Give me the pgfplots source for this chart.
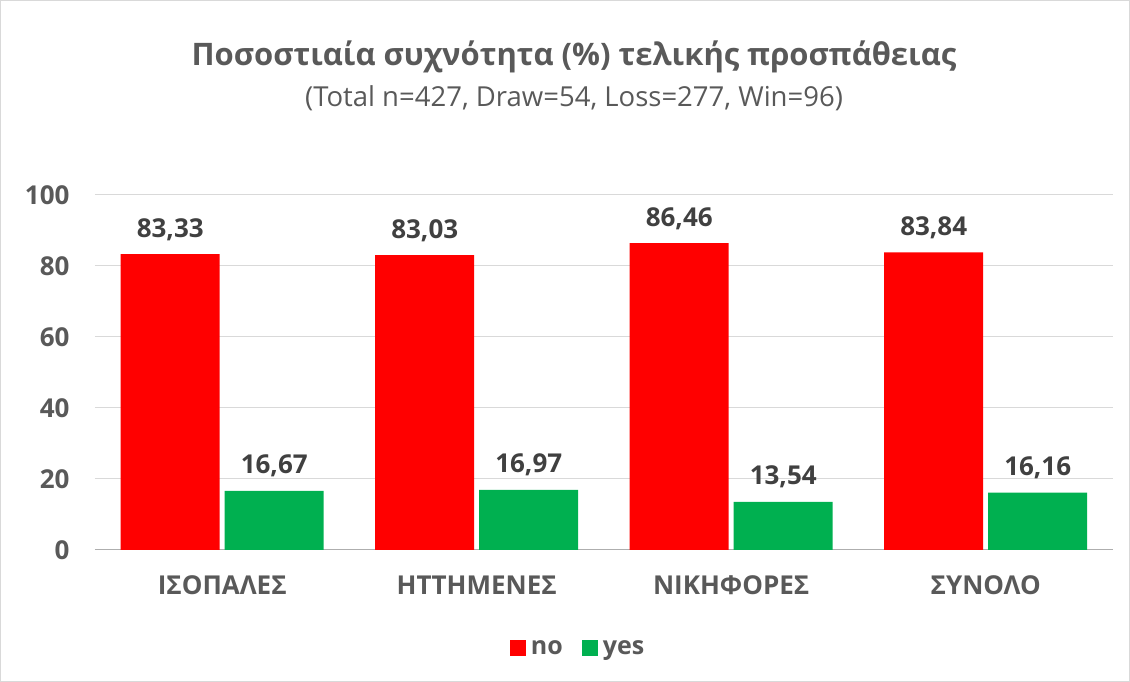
\documentclass[border=0pt]{standalone}
\usepackage{fontspec}
\setmainfont{Open Sans}
\usepackage{pgfplots}
\pgfplotsset{compat=1.18}
\definecolor{txt}{HTML}{595959}
\definecolor{lbl}{HTML}{404040}
\definecolor{gridc}{HTML}{D9D9D9}
\definecolor{cno}{HTML}{FF0000}
\definecolor{cyes}{HTML}{00B050}
\begin{document}
\begin{tikzpicture}[x=1pt,y=1pt]
\draw[gridc, line width=1pt] (0.5,0.5) rectangle (1129.5,681.5);
\node[txt, font=\fontsize{31}{36}\selectfont\bfseries] at (574,625) {Ποσοστιαία συχνότητα (\%) τελικής προσπάθειας};
\node[txt, font=\fontsize{27.5}{32}\selectfont] at (574,584) {(Total n=427, Draw=54, Loss=277, Win=96)};
\begin{axis}[
  at={(95pt,132pt)}, anchor=south west, scale only axis,
  width=1018pt, height=355pt,
  xmin=-0.5, xmax=3.5, ymin=0, ymax=100,
  ytick={0,20,...,100}, xtick={0,1,2,3},
  xticklabels={ΙΣΟΠΑΛΕΣ,ΗΤΤΗΜΕΝΕΣ,ΝΙΚΗΦΟΡΕΣ,ΣΥΝΟΛΟ},
  axis lines*=left,
  x axis line style={draw=gridc!80!black, line width=1pt},
  y axis line style={draw=none},
  major tick length=0pt,
  ymajorgrids, grid style={gridc, line width=1pt},
  /pgf/number format/assume math mode=true,
  tick label style={text=txt, font=\fontsize{26}{30}\selectfont\bfseries},
  yticklabel style={xshift=-22pt},
  xticklabel style={yshift=-22pt, font=\fontsize{26}{30}\selectfont\bfseries},
  ybar, bar width=99pt,
  nodes near coords={\pgfmathprintnumber[fixed, fixed zerofill, precision=2, use comma, assume math mode=true]{\pgfplotspointmeta}},
  every node near coord/.append style={anchor=base, yshift=17pt, text=lbl, font=\fontsize{26}{30}\selectfont\bfseries},
  legend style={at={(0.476,-0.276)}, anchor=center, draw=none, legend columns=2,
    font=\fontsize{25}{30}\selectfont\bfseries, text=txt,
    /tikz/every even column/.append style={column sep=14pt}},
  legend image code/.code={\fill[#1] (0pt,-8pt) rectangle (16pt,8pt);},
  legend style={/tikz/every node/.append style={inner xsep=5pt}},
]
\addplot[fill=cno, draw=none, bar shift=-52pt] coordinates {(0,83.33) (1,83.03) (2,86.46) (3,83.84)};
\addplot[fill=cyes, draw=none, bar shift=52pt] coordinates {(0,16.67) (1,16.97) (2,13.54) (3,16.16)};
\legend{no,yes}
\end{axis}
\end{tikzpicture}
\end{document}
